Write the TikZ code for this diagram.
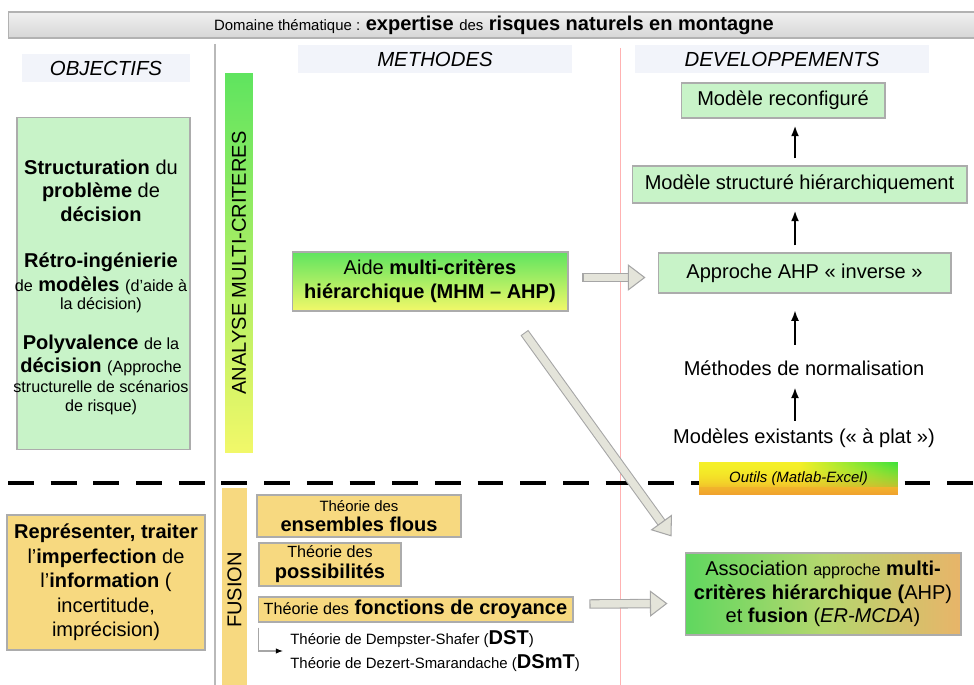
\documentclass[tikz,border=0pt]{standalone}
\usepackage{fontspec}
\setmainfont{Liberation Sans}
\usetikzlibrary{arrows.meta,calc,positioning,fadings}

\definecolor{vertclair}{RGB}{200,243,200}
\definecolor{jauneclair}{RGB}{247,217,128}
\definecolor{bandeau}{RGB}{242,244,250}
\definecolor{vertvif}{RGB}{95,228,95}
\definecolor{jaunevif}{RGB}{242,248,105}
\definecolor{jauneoutil}{RGB}{245,240,40}
\definecolor{orangeoutil}{RGB}{240,160,45}
\definecolor{vertoutil}{RGB}{60,225,60}
\definecolor{vertassoc}{RGB}{95,215,95}
\definecolor{milieuassoc}{RGB}{180,215,110}
\definecolor{orangeassoc}{RGB}{232,180,105}
\definecolor{fondbloc}{RGB}{228,228,218}
\newcommand{\petit}{\fontsize{8.5}{10.5}\selectfont}
\newcommand{\moyen}{\fontsize{9.2}{11}\selectfont}

\begin{document}
\begin{tikzpicture}[x=0.02cm,y=-0.02cm,>=Stealth,
  font=\fontsize{11.4}{13.4}\selectfont,
  boite/.style={draw=gray!65,line width=0.6pt,align=center,inner sep=0pt},
  vboite/.style={boite,fill=vertclair},
  jboite/.style={boite,fill=jauneclair},
  entete/.style={fill=bandeau,inner sep=0pt,minimum height=0.55cm,font=\fontsize{11.6}{13}\selectfont\itshape},
  etiq/.style={inner sep=0pt,text height=9pt,text depth=2.5pt},
  fleche/.style={-{Latex[length=6pt,width=4.5pt]},line width=1.1pt,shorten <=4pt,shorten >=4pt},
  bloc/.style={-{Triangle[length=10pt,width=15pt,line width'=0.6pt,color=gray!70,fill=fondbloc]},
    line width=4.2pt,draw=fondbloc,
    preaction={draw=gray!70,line width=5.4pt,arrows=-,shorten >=5pt,shorten <=-0.6pt}}]
  \useasboundingbox (0,0) rectangle (974,685);

  % bandeau du domaine
  \node[draw=gray!60,line width=0.6pt,top color=gray!12,bottom color=gray!32,
    minimum width=19.44cm,minimum height=0.52cm,inner sep=0pt] (domaine) at (494,25)
    {{\petit Domaine thématique :}\ \textbf{expertise} {\petit des} \textbf{risques naturels en montagne}};

  % titres des colonnes
  \node[entete,minimum width=3.36cm] (objectifs) at (106,68) {OBJECTIFS};
  \node[entete,minimum width=5.48cm] (methodes) at (435,59) {METHODES};
  \node[entete,minimum width=5.9cm] (devs) at (782,59) {DEVELOPPEMENTS};

  % séparations
  \draw[gray!55,line width=1pt] (215,44) -- (215,690);
  \draw[red!30,line width=0.5pt] (620,48) -- (620,690);
  \draw[line width=2pt,dash pattern=on 14.7pt off 9.6pt] (8,483) -- (980,483);

  % colonne objectifs
  \node[vboite,minimum width=3.46cm,minimum height=6.66cm] (objcadre) at (103.5,283.5) {};
  \node[align=center] (objA) at (101,190.5)
    {\textbf{Structuration} du\\\textbf{problème} de\\\textbf{décision}};
  \node[align=center] (objB) at (101,283)
    {\textbf{Rétro-ingénierie}\\{\moyen de} \textbf{modèles} {\moyen (d'aide à}\\[-3pt]{\moyen la décision)}};
  \node[align=center] (objC) at (101,375)
    {\textbf{Polyvalence} {\moyen de la}\\\textbf{décision} {\moyen (Approche}\\[-2pt]{\moyen structurelle de scénarios}\\[-2.6pt]{\moyen de risque)}};
  \node[jboite,minimum width=3.96cm,minimum height=2.7cm,font=\fontsize{11.4}{13.9}\selectfont] (imperf) at (106,582.5)
    {\textbf{Représenter, traiter}\\l’\textbf{imperfection} de\\l’\textbf{information} (\\incertitude,\\imprécision)};

  % bandes verticales
  \node[minimum width=0.56cm,minimum height=7.6cm,top color=vertvif,bottom color=jaunevif,inner sep=0pt] (amc) at (239,263) {};
  \node[rotate=90] (amctexte) at (amc.center) {ANALYSE MULTI-CRITERES};
  \node[fill=jauneclair,minimum width=0.5cm,minimum height=4.1cm,inner sep=0pt] (fusion) at (234.5,590) {};
  \node[rotate=90] (fusiontexte) at (fusion.center) {FUSION};

  % méthodes
  \node[boite,minimum width=5.52cm,minimum height=1.18cm,top color=vertvif,bottom color=jaunevif] (aide) at (430,281.5)
    {Aide \textbf{multi-critères}\\\textbf{hiérarchique (MHM – AHP)}};
  \node[jboite,minimum width=4.08cm,minimum height=0.84cm] (flous) at (359,516)
    {{\petit Théorie des}\\[-2pt]\textbf{ensembles flous}};
  \node[jboite,minimum width=2.84cm,minimum height=0.86cm] (possib) at (330,564.5)
    {{\moyen Théorie des}\\[-1.5pt]\textbf{possibilités}};
  \node[jboite,minimum width=6.3cm,minimum height=0.5cm] (croyance) at (415.5,609.5)
    {{\moyen Théorie des} \textbf{fonctions de croyance}};
  \node[etiq,anchor=west,font=\petit] (dst) at (290,639)
    {Théorie de Dempster-Shafer (\textbf{\fontsize{11.4}{13}\selectfont DST})};
  \node[etiq,anchor=west,font=\petit] (dsmt) at (290,663)
    {Théorie de Dezert-Smarandache (\textbf{\fontsize{11.4}{13}\selectfont DSmT})};
  \draw[gray!70,line width=0.6pt,-{Latex[length=4pt,width=3pt,color=black]}]
    ($(croyance.south west)+(1,5)$) |- ($(dst.west)!0.5!(dsmt.west)+(-7,0)$);

  % développements
  \coordinate (axe) at (795,0);
  \node[vboite,minimum width=4.08cm,minimum height=0.7cm] (reconf) at (783,100.5) {Modèle reconfiguré};
  \node[vboite,minimum width=6.7cm,minimum height=0.74cm] (hier) at (799.5,184.5) {Modèle structuré hiérarchiquement};
  \node[vboite,minimum width=5.86cm,minimum height=0.8cm] (inverse) at (804.5,273) {Approche AHP « inverse »};
  \node[etiq] (norm) at (804,370) {Méthodes de normalisation};
  \node[etiq] (existants) at (804,438) {Modèles existants (« à plat »)};
  \draw[fleche] (hier.north -| axe) -- (reconf.south -| axe);
  \draw[fleche] (inverse.north -| axe) -- (hier.south -| axe);
  \draw[fleche,shorten <=8.5pt,shorten >=9.5pt] (norm.north -| axe) -- (inverse.south -| axe);
  \draw[fleche] (existants.north -| axe) -- (norm.south -| axe);

  \node[draw=none,minimum width=3.98cm,minimum height=0.66cm,inner sep=0pt,
    top color=jauneoutil,bottom color=orangeoutil,font=\petit\itshape,
    path picture={\shade[left color=jauneoutil,right color=vertoutil,middle color=jauneoutil,path fading=south]
      (path picture bounding box.north west) rectangle ($(path picture bounding box.south east)+(0,-8)$);}]
    (outils) at (798.5,478.5) {Outils (Matlab-Excel)};
  \node[boite,minimum width=5.52cm,minimum height=1.64cm,left color=vertassoc,right color=orangeassoc,middle color=milieuassoc] (assoc) at (823,594)
    {Association {\moyen approche} \textbf{multi-}\\\textbf{critères hiérarchique (}AHP)\\et \textbf{fusion} (\textit{ER-MCDA})};

  % flèches de passage
  \draw[bloc] ($(aide.east)+(15,-4)$) -- ($(inverse.west)+(-12,4.5)$);
  \draw[bloc] ($(aide.south)+(95,22)$) -- ($(assoc.north west)+(-13,-16)$);
  \draw[bloc] ($(croyance.east)+(17,-5.5)$) -- ($(assoc.west)+(-17,9.5)$);
\end{tikzpicture}
\end{document}
